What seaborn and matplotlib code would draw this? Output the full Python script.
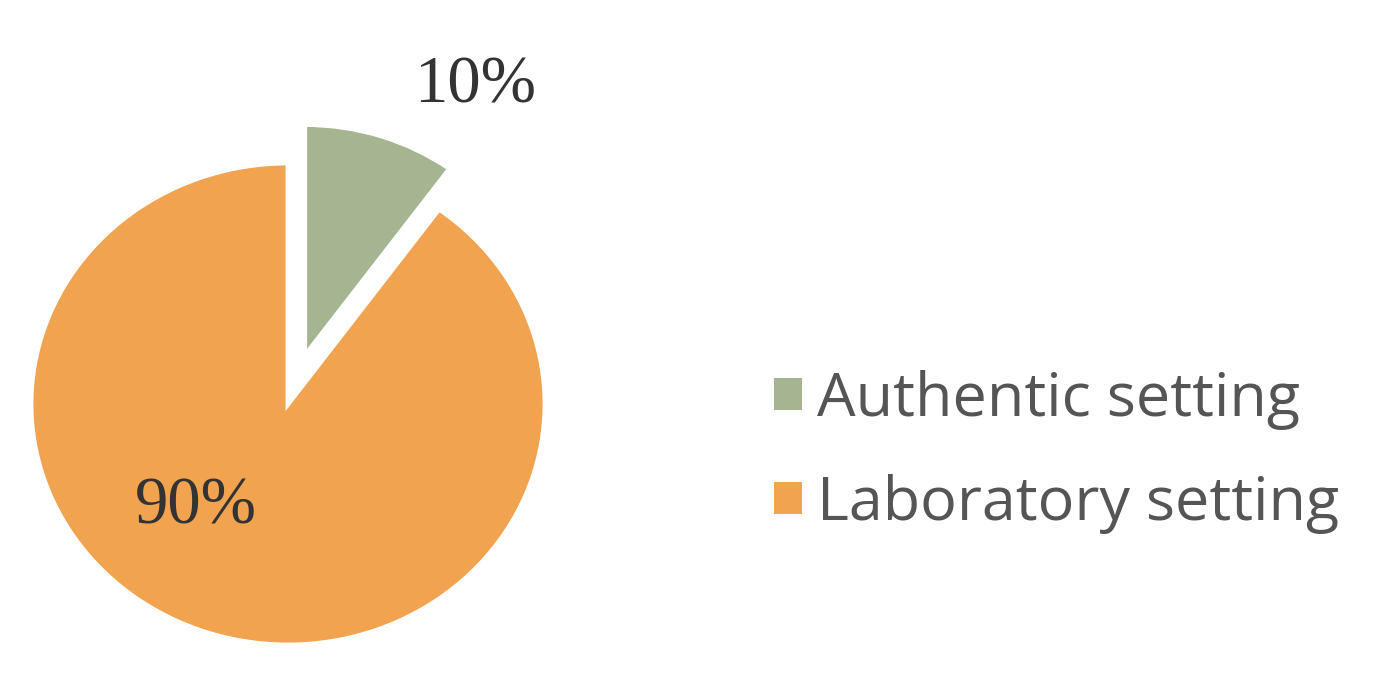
import matplotlib
matplotlib.use("Agg")
import matplotlib.pyplot as plt
import seaborn as sns

# data
settings = ["Authentic setting", "Laboratory setting"]
shares = [10, 90]
colors = ["#A5B592", "#F1A350"]

sns.set_style("white")
plt.rcParams["font.family"] = ["Open Sans", "DejaVu Sans"]
palette = sns.color_palette(colors)

W, H = 1382, 690
fig = plt.figure(figsize=(W / 100, H / 100), dpi=100)

# pie centre and radii in pixels (image is slightly stretched horizontally)
cx, cy = 288, 690 - 404
rx, ry = 257, 241
xlim = (-1.12, 1.12)
ylim = (-1.12, 1.6)
ax = fig.add_axes([(cx + xlim[0] * rx) / W, (cy + ylim[0] * ry) / H,
                   (xlim[1] - xlim[0]) * rx / W, (ylim[1] - ylim[0]) * ry / H])

wedges, _ = ax.pie(shares, colors=palette, startangle=90, counterclock=False,
                   explode=[0.21, 0], radius=1,
                   wedgeprops=dict(edgecolor="white", linewidth=3.5))
# the pulled-out slice is drawn a little smaller in the original
wedges[0].set_radius(0.96)
ax.set_aspect("auto")
ax.set_xlim(*xlim)
ax.set_ylim(*ylim)
ax.axis("off")

label_pos = [(0.73, 1.32), (-0.358, -0.427)]
for val, (lx, ly) in zip(shares, label_pos):
    ax.text(lx, ly, f"{val}%", ha="center", va="center", fontsize=48,
            family=["Liberation Serif"], color="#333333")

leg = fig.legend(wedges, settings, loc="upper left",
                 bbox_to_anchor=(774 / W, 1 - 370 / H),
                 frameon=False, fontsize=44, labelcolor="#555555",
                 handlelength=0.46, handleheight=0.43, handletextpad=0.24,
                 labelspacing=0.72, borderpad=0, borderaxespad=0)
for h in leg.legend_handles:
    h.set_linewidth(0)

fig.savefig("out.png", dpi=100)
